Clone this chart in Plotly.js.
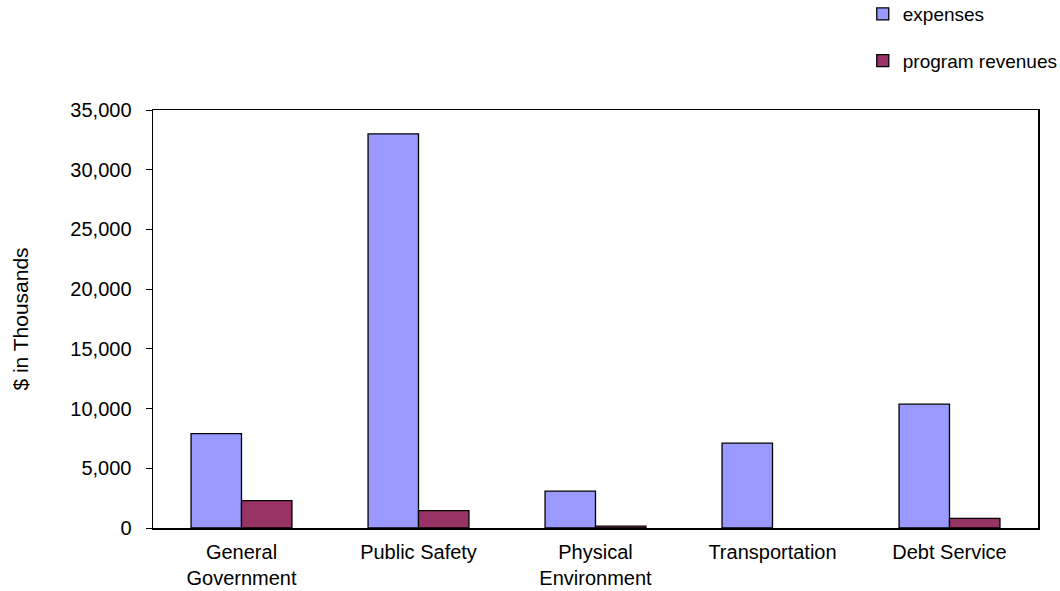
<!DOCTYPE html>
<html>
<head>
<meta charset="utf-8">
<script src="https://cdn.plot.ly/plotly-3.0.1.min.js"></script>
<style>html,body{margin:0;padding:0;background:#fff;}#chart{width:1060px;height:591px;}</style>
</head>
<body>
<div id="chart"></div>
<script>
const categories = ["General<br>Government", "Public Safety", "Physical<br>Environment", "Transportation", "Debt Service"];
const expenses = [7900, 33000, 3080, 7100, 10370];
const programRevenues = [2300, 1450, 150, null, 800];
const yTickVals = [0, 5000, 10000, 15000, 20000, 25000, 30000, 35000];
const yTickText = ["0", "5,000", "10,000", "15,000", "20,000", "25,000", "30,000", "35,000"];

const font = "Liberation Sans, Arial, sans-serif";
const traces = [
  {type: "bar", name: "expenses", x: categories, y: expenses, legendgroup: "a",
   marker: {color: "#9999FF", line: {color: "#000", width: 1.3}}},
  {type: "bar", name: "program revenues", x: categories, y: programRevenues, legendgroup: "b",
   marker: {color: "#993366", line: {color: "#000", width: 1.3}}}
];
const layout = {
  width: 1060, height: 591,
  margin: {l: 153, r: 22, t: 110, b: 63, autoexpand: false},
  paper_bgcolor: "#fff", plot_bgcolor: "#fff",
  font: {family: font, size: 20, color: "#000"},
  barmode: "group", bargap: 0.43, bargroupgap: 0,
  showlegend: true,
  legend: {x: 0.802, y: 1.275, xanchor: "left", yanchor: "top", traceorder: "grouped",
           itemwidth: 30, tracegroupgap: 19, font: {family: font, size: 19}, bgcolor: "rgba(0,0,0,0)"},
  xaxis: {showline: true, linecolor: "#000", linewidth: 1.5, mirror: true, ticks: "",
          ticklabelstandoff: 5, tickfont: {family: font, size: 20}, showgrid: false},
  yaxis: {range: [0, 35000], tickvals: yTickVals, ticktext: yTickText, showgrid: false,
          showline: true, linecolor: "#000", linewidth: 1.5, mirror: true, ticks: "outside",
          ticklen: 6, tickcolor: "#000", ticklabelstandoff: 10, tickfont: {family: font, size: 20}, zeroline: false,
          title: {text: "$ in Thousands", font: {family: font, size: 21}, standoff: 36}}
};
Plotly.newPlot("chart", traces, layout, {displayModeBar: false, staticPlot: true});
</script>
</body>
</html>
